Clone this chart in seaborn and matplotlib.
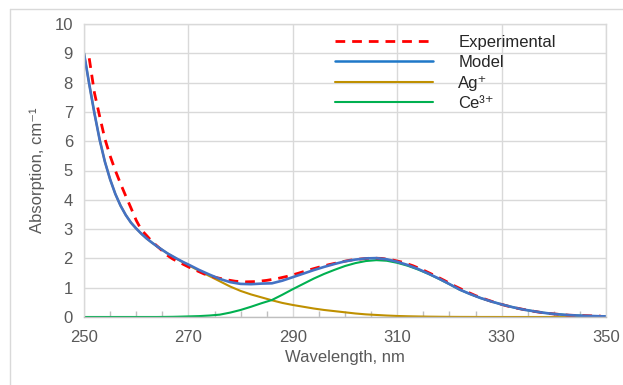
import numpy as np
import pandas as pd
import seaborn as sns
import matplotlib
matplotlib.use("Agg")
import matplotlib.pyplot as plt
from matplotlib.lines import Line2D
from matplotlib.ticker import MultipleLocator

# ---- data ----
wavelength = [250, 251, 252, 253, 254, 255, 256, 257, 258, 259, 260,
              261, 262, 263, 264, 265, 266, 267, 268, 269, 270,
              272, 274, 276, 278, 280, 282, 284, 286, 288, 290,
              292, 294, 296, 298, 300, 302, 304, 306, 308, 310,
              312, 314, 316, 318, 320, 322, 324, 326, 328, 330,
              332, 334, 336, 338, 340, 342, 344, 346, 348, 350]

ag_band = [9.00, 7.95, 6.95, 6.05, 5.30, 4.70, 4.20, 3.80, 3.48, 3.22, 3.02,
           2.84, 2.68, 2.54, 2.41, 2.29, 2.17, 2.06, 1.96, 1.86, 1.77,
           1.58, 1.40, 1.22, 1.04, 0.89, 0.77, 0.67, 0.57, 0.48, 0.41,
           0.35, 0.29, 0.24, 0.20, 0.16, 0.12, 0.09, 0.07, 0.05, 0.035,
           0.025, 0.018, 0.012, 0.008, 0.005, 0.003, 0.002, 0.001, 0.001, 0.0,
           0.0, 0.0, 0.0, 0.0, 0.0, 0.0, 0.0, 0.0, 0.0, 0.0]

ce_band = [0.0, 0.0, 0.0, 0.0, 0.0, 0.0, 0.0, 0.0, 0.0, 0.0, 0.0,
           0.0, 0.0, 0.0, 0.0, 0.002, 0.004, 0.006, 0.01, 0.015, 0.02,
           0.03, 0.05, 0.08, 0.15, 0.24, 0.35, 0.47, 0.58, 0.76, 0.95,
           1.13, 1.31, 1.47, 1.61, 1.74, 1.84, 1.91, 1.94, 1.92, 1.85,
           1.75, 1.62, 1.47, 1.30, 1.12, 0.93, 0.78, 0.645, 0.53, 0.43,
           0.34, 0.26, 0.20, 0.145, 0.105, 0.075, 0.055, 0.04, 0.03, 0.02]

model = [9.00, 7.95, 6.95, 6.05, 5.30, 4.70, 4.20, 3.80, 3.48, 3.22, 3.02,
         2.84, 2.68, 2.54, 2.41, 2.29, 2.17, 2.07, 1.97, 1.875, 1.79,
         1.61, 1.45, 1.30, 1.19, 1.13, 1.12, 1.14, 1.15, 1.24, 1.36,
         1.48, 1.60, 1.71, 1.81, 1.90, 1.96, 2.00, 2.01, 1.97, 1.885,
         1.775, 1.64, 1.48, 1.31, 1.125, 0.933, 0.782, 0.646, 0.531, 0.43,
         0.34, 0.26, 0.20, 0.145, 0.105, 0.075, 0.055, 0.04, 0.03, 0.02]

exp_wavelength = [251, 252, 253, 254, 255, 256, 257, 258, 259, 260,
                  261, 262, 263, 264, 265, 266, 267, 268, 269, 270,
                  271, 273, 275, 277, 279, 281, 283, 285, 287, 289,
                  291, 293, 295, 297, 299, 301, 303, 305, 307, 309,
                  311, 313, 315, 317, 319, 321, 323, 325, 327, 329,
                  331, 333, 335, 337, 339, 341, 343, 345, 347, 349]

experimental = [8.83, 7.65, 6.85, 6.08, 5.50, 5.00, 4.55, 4.13, 3.72, 3.30,
                2.97, 2.78, 2.58, 2.42, 2.26, 2.10, 1.98, 1.89, 1.80, 1.71,
                1.63, 1.47, 1.36, 1.28, 1.22, 1.20, 1.21, 1.25, 1.31, 1.39,
                1.49, 1.60, 1.70, 1.79, 1.87, 1.94, 1.98, 2.01, 2.00, 1.95,
                1.87, 1.75, 1.60, 1.43, 1.25, 1.06, 0.89, 0.73, 0.60, 0.48,
                0.38, 0.30, 0.23, 0.17, 0.12, 0.09, 0.06, 0.05, 0.04, 0.03]

x_ticks = [250, 270, 290, 310, 330, 350]
y_ticks = [0, 1, 2, 3, 4, 5, 6, 7, 8, 9, 10]

# ---- style ----
sns.set_theme(style="white")
plt.rcParams['font.family'] = ['Liberation Sans', 'DejaVu Sans']

GRID = "#D9D9D9"
TXT = "#595959"
FS = 12

fig = plt.figure(figsize=(6.23, 3.85), dpi=100)
ax = fig.add_axes([84 / 623, 1 - 317 / 385, (606 - 84) / 623, (317 - 24) / 385])

df_comp = pd.DataFrame({"wl": wavelength, "ag": ag_band, "ce": ce_band, "model": model})
df_exp = pd.DataFrame({"wl": exp_wavelength, "exp": experimental})

sns.lineplot(data=df_comp, x="wl", y="ag", ax=ax, color="#BF9000", lw=1.5, label="Ag\u207a")
sns.lineplot(data=df_comp, x="wl", y="ce", ax=ax, color="#00B050", lw=1.5, label="Ce\u00b3\u207a")
sns.lineplot(data=df_exp, x="wl", y="exp", ax=ax, color="#FF0000", lw=2.0,
             linestyle=(0, (3.5, 2.5)), label="Experimental")
sns.lineplot(data=df_comp, x="wl", y="model", ax=ax, color="#4472C4", lw=1.9, label="Model")

ax.set_xlim(250, 350)
ax.set_ylim(0, 10)
ax.set_xticks(x_ticks)
ax.set_yticks(y_ticks)
ax.xaxis.set_minor_locator(MultipleLocator(5))
ax.grid(True, which="major", color=GRID, lw=1.0)
ax.set_axisbelow(True)

for side in ["left", "top", "right"]:
    ax.spines[side].set_color(GRID)
    ax.spines[side].set_linewidth(1.0)
ax.spines["bottom"].set_color("#BFBFBF")
ax.spines["bottom"].set_linewidth(1.0)

ax.tick_params(axis="x", which="major", direction="out", length=5, color="#BFBFBF",
               labelsize=FS, labelcolor=TXT, pad=4)
ax.tick_params(axis="x", which="minor", direction="in", length=4, color="#BFBFBF", bottom=True)
ax.tick_params(axis="y", which="major", length=0, labelsize=FS, labelcolor=TXT, pad=8)

ax.set_xlabel("Wavelength, nm", fontsize=FS, color=TXT, labelpad=4)
ax.set_ylabel("Absorption, cm\u207b\u00b9", fontsize=FS, color=TXT, labelpad=7)

# legend with custom handles in the reference order
handles = [
    Line2D([], [], color="#FF0000", lw=2.0, linestyle=(0, (3.5, 2.5))),
    Line2D([], [], color="#1F78C8", lw=1.8),
    Line2D([], [], color="#BF9000", lw=1.5),
    Line2D([], [], color="#00B050", lw=1.5),
]
labels = ["Experimental", "Model", "Ag\u207a", "Ce\u00b3\u207a"]
leg = ax.legend(handles, labels, loc="upper left",
                bbox_to_anchor=((335 - 84) / 522, 1 - 11 / 293),
                frameon=False, fontsize=FS, handlelength=5.9, handletextpad=1.5,
                labelspacing=0.32, borderaxespad=0, borderpad=0)
for t in leg.get_texts():
    t.set_color("#262626")

# chart-area border (top and left visible in the reference)
fig.add_artist(Line2D([9.5 / 623, 1.0], [1 - 8.5 / 385, 1 - 8.5 / 385],
                      transform=fig.transFigure, color="#D9D9D9", lw=1.0))
fig.add_artist(Line2D([9.5 / 623, 9.5 / 623], [0.0, 1 - 8.5 / 385],
                      transform=fig.transFigure, color="#D9D9D9", lw=1.0))

fig.savefig("out.png", dpi=100)
